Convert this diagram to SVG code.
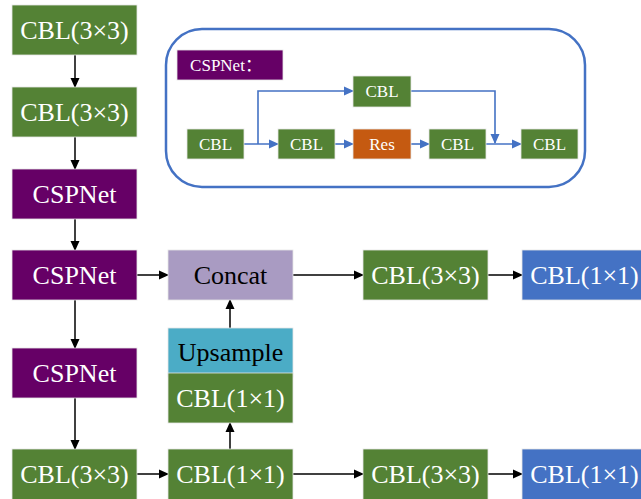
<svg xmlns="http://www.w3.org/2000/svg" width="641" height="499" viewBox="0 0 641 499">
<defs>
<marker id="ab" markerWidth="10" markerHeight="10" refX="9" refY="5" orient="auto" markerUnits="userSpaceOnUse"><path d="M0,0.5 L10,5 L0,9.5 Z" fill="#000"/></marker>
<marker id="au" markerWidth="10" markerHeight="10" refX="9" refY="5" orient="auto" markerUnits="userSpaceOnUse"><path d="M0,0.5 L10,5 L0,9.5 Z" fill="#4472C4"/></marker>
<style>
.b{stroke:#e6e6e6;stroke-width:0.8}
.g{fill:#548235}.p{fill:#660066}.c{fill:#A99BC2}.u{fill:#4BACC6}.bl{fill:#4472C4}.o{fill:#C55A11}
.t{font-family:"Liberation Serif","Times New Roman",serif;font-size:26px;text-anchor:middle;fill:#fff}
.k{fill:#000}
.s{font-family:"Liberation Serif","Times New Roman","Noto Sans CJK SC",serif;font-size:17px;text-anchor:middle;fill:#fff}
.ln{stroke:#000;stroke-width:1.5;fill:none;marker-end:url(#ab)}
.lb{stroke:#4472C4;stroke-width:1.6;fill:none;marker-end:url(#au)}
</style>
</defs>
<g id="connectors">
<line class="ln" x1="75" y1="55" x2="75" y2="87"/>
<line class="ln" x1="75" y1="137" x2="75" y2="169"/>
<line class="ln" x1="75" y1="219" x2="75" y2="250"/>
<line class="ln" x1="75" y1="300" x2="75" y2="348"/>
<line class="ln" x1="75" y1="398" x2="75" y2="449"/>
<line class="ln" x1="137" y1="275" x2="168" y2="275"/>
<line class="ln" x1="293" y1="275" x2="363" y2="275"/>
<line class="ln" x1="488" y1="275" x2="522" y2="275"/>
<line class="ln" x1="137" y1="474" x2="168" y2="474"/>
<line class="ln" x1="293" y1="474" x2="363" y2="474"/>
<line class="ln" x1="488" y1="474" x2="522" y2="474"/>
<line class="ln" x1="230" y1="449" x2="230" y2="423"/>
<line class="ln" x1="230" y1="328" x2="230" y2="300"/>
<line class="lb" x1="244" y1="144" x2="278" y2="144"/>
<polyline class="lb" points="258,144 258,91 353,91"/>
<line class="lb" x1="335" y1="144" x2="353" y2="144"/>
<line class="lb" x1="411" y1="144" x2="429" y2="144"/>
<line class="lb" x1="486" y1="144" x2="521" y2="144"/>
<polyline class="lb" points="411,91 495,91 495,143"/>
</g>
<g id="csp-frame"><rect x="166" y="29" width="419" height="158" rx="36" fill="none" stroke="#4472C4" stroke-width="2.5"/></g>
<g id="csp-label"><rect class="p b" x="177" y="50" width="106" height="30"/><text class="s" x="226" y="71">CSPNet：</text></g>
<g id="i-cbl1"><rect class="g b" x="187" y="129" width="57" height="30"/><text class="s" x="215.5" y="150">CBL</text></g>
<g id="i-cbl2"><rect class="g b" x="278" y="129" width="57" height="30"/><text class="s" x="306.5" y="150">CBL</text></g>
<g id="i-res"><rect class="o b" x="353" y="129" width="58" height="30"/><text class="s" x="382" y="150">Res</text></g>
<g id="i-cbl3"><rect class="g b" x="429" y="129" width="57" height="30"/><text class="s" x="457.5" y="150">CBL</text></g>
<g id="i-cbl4"><rect class="g b" x="521" y="129" width="57" height="30"/><text class="s" x="549.5" y="150">CBL</text></g>
<g id="i-cbltop"><rect class="g b" x="353" y="76" width="58" height="31"/><text class="s" x="382" y="97">CBL</text></g>
<g id="n1"><rect class="g b" x="12" y="5" width="125" height="50"/><text class="t" x="74.5" y="39">CBL(3×3)</text></g>
<g id="n2"><rect class="g b" x="12" y="87" width="125" height="50"/><text class="t" x="74.5" y="121">CBL(3×3)</text></g>
<g id="n3"><rect class="p b" x="12" y="169" width="125" height="50"/><text class="t" x="74.5" y="203">CSPNet</text></g>
<g id="n4"><rect class="p b" x="12" y="250" width="125" height="50"/><text class="t" x="74.5" y="284">CSPNet</text></g>
<g id="n5"><rect class="p b" x="12" y="348" width="125" height="50"/><text class="t" x="74.5" y="382">CSPNet</text></g>
<g id="n6"><rect class="g b" x="12" y="449" width="125" height="52"/><text class="t" x="74.5" y="483">CBL(3×3)</text></g>
<g id="concat"><rect class="c b" x="168" y="250" width="125" height="50"/><text class="t k" x="230.5" y="284">Concat</text></g>
<g id="upsample"><rect class="u b" x="168" y="328" width="125" height="49"/><text class="t k" x="230.5" y="361">Upsample</text></g>
<g id="cbl11-mid"><rect class="g b" x="168" y="373" width="125" height="50"/><text class="t" x="230.5" y="407">CBL(1×1)</text></g>
<g id="cbl11-bot"><rect class="g b" x="168" y="449" width="125" height="52"/><text class="t" x="230.5" y="483">CBL(1×1)</text></g>
<g id="cbl33-top"><rect class="g b" x="363" y="250" width="125" height="50"/><text class="t" x="425.5" y="284">CBL(3×3)</text></g>
<g id="cbl11-top-blue"><rect class="bl b" x="522" y="250" width="125" height="50"/><text class="t" x="584.5" y="284">CBL(1×1)</text></g>
<g id="cbl33-bot"><rect class="g b" x="363" y="449" width="125" height="52"/><text class="t" x="425.5" y="483">CBL(3×3)</text></g>
<g id="cbl11-bot-blue"><rect class="bl b" x="522" y="449" width="125" height="52"/><text class="t" x="584.5" y="483">CBL(1×1)</text></g>
</svg>
